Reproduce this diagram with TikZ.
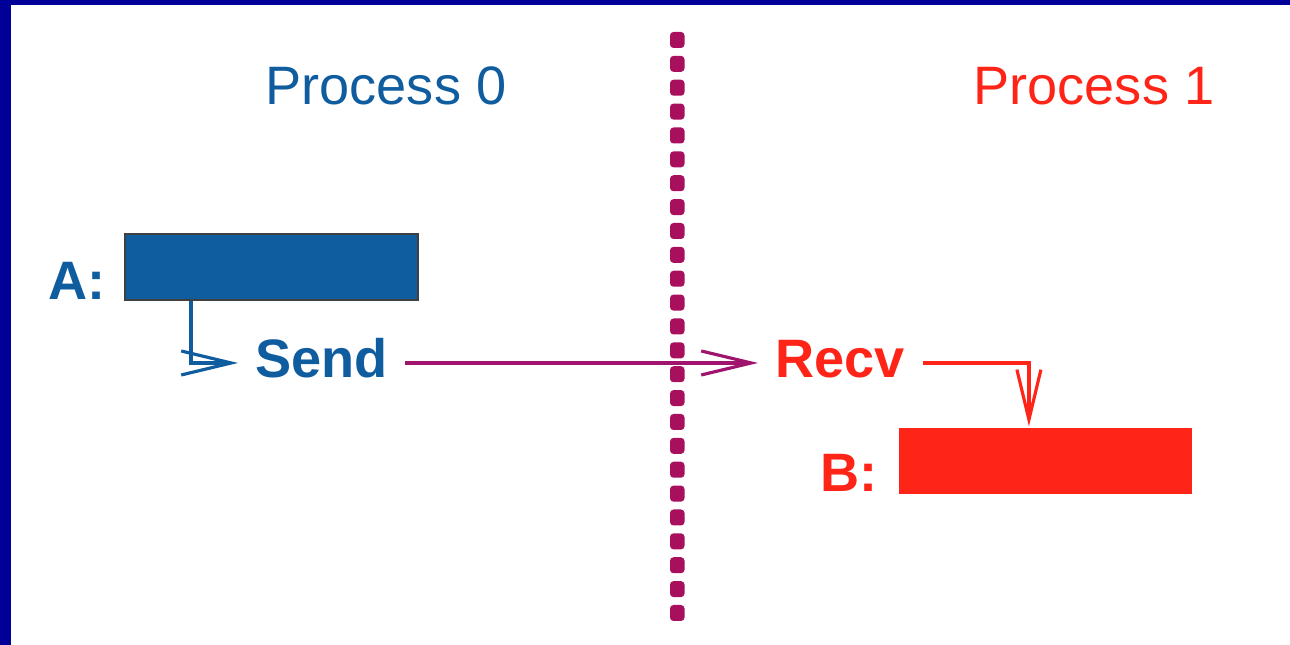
\documentclass[tikz,border=0pt]{standalone}
\usepackage{fontspec}
\setmainfont{Liberation Sans}
\usetikzlibrary{arrows.meta,calc}
\definecolor{frameblue}{HTML}{000099}
\definecolor{pzero}{HTML}{0F5C9E}
\definecolor{pone}{HTML}{FF2418}
\definecolor{wire}{HTML}{A0146E}
\definecolor{barrier}{HTML}{A8105E}
\tikzset{
  proc/.style={font=\fontsize{15.4}{18}\selectfont, inner sep=0pt, anchor=base west},
  msg/.style={font=\fontsize{15.4}{18}\selectfont\bfseries, inner xsep=1.6mm, inner ysep=0pt,
    text height=8.5pt, text depth=0pt, anchor=west},
  buf/.style={minimum width=2.93cm, minimum height=0.66cm, inner sep=0pt},
  tag/.style={font=\fontsize{15.4}{18}\selectfont\bfseries, inner sep=0pt, anchor=base east},
}
\begin{document}
\begin{tikzpicture}[line width=0.9pt, >={Straight Barb[length=5mm,width=2.4mm]}]
\useasboundingbox (0,0) rectangle (12.9,6.45);
% frame
\fill[frameblue] (0,0) rectangle (0.11,6.45);
\fill[frameblue] (0,6.40) rectangle (12.9,6.45);
%
% headings
\node[proc, text=pzero] (p0) at (2.64,5.40) {Process 0};
\node[proc, text=pone] (p1) at (9.72,5.40) {Process 1};
%
% dotted split between the two processes
\foreach \k in {0,...,24}
  \fill[barrier, rounded corners=0.035cm] (6.70,{5.97-0.23875*\k}) rectangle ++(0.145,0.16);
%
% process 0
\node[buf, fill=pzero, draw=black!75, line width=0.6pt] (bufa) at (2.715,3.78) {};
\node[tag, text=pzero] (taga) at (1.07,3.45) {A:};
\node[msg, text=pzero] (send) at (2.38,2.82) {Send};
\draw[->, pzero] ($(bufa.south west)+(0.67,0)$) |- (send.west);
%
% process 1
\node[msg, text=pone] (recv) at (7.58,2.82) {Recv};
\node[buf, fill=pone] (bufb) at (10.45,1.84) {};
\node[tag, text=pone] (tagb) at (8.79,1.53) {B:};
\draw[->, pone] (recv.east) -| ($(bufb.north west)+(1.32,0)$);
%
% message
\draw[->, wire] (send.east) -- (recv.west);
%
\end{tikzpicture}
\end{document}
